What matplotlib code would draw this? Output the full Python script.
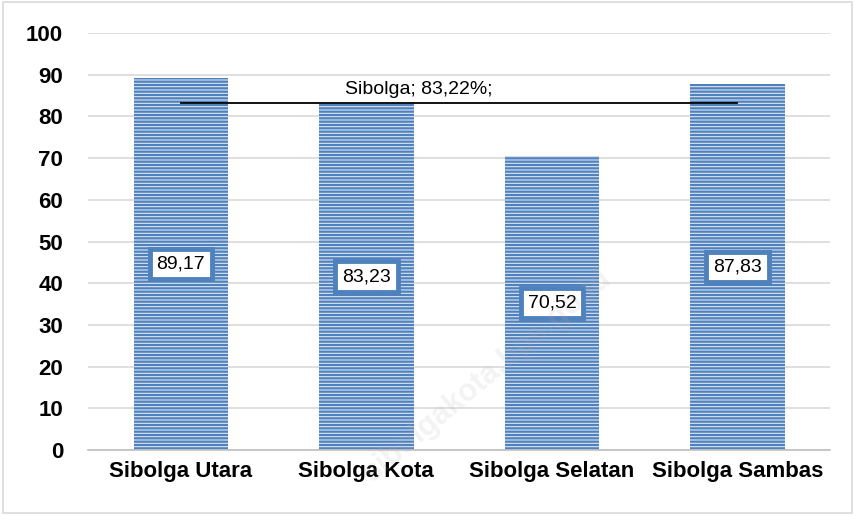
import matplotlib
matplotlib.use("Agg")
import matplotlib.pyplot as plt
from matplotlib.patches import Rectangle

categories = ["Sibolga Utara", "Sibolga Kota", "Sibolga Selatan", "Sibolga Sambas"]
values = [89.17, 83.23, 70.52, 87.83]
value_labels = ["89,17", "83,23", "70,52", "87,83"]
avg_value = 83.22
avg_label = "Sibolga; 83,22%;"
yticks = [0, 10, 20, 30, 40, 50, 60, 70, 80, 90, 100]

plt.rcParams['font.family'] = ['Liberation Sans', 'DejaVu Sans']
plt.rcParams['hatch.linewidth'] = 1.6

fig = plt.figure(figsize=(8.55, 5.15), dpi=100)
fig.patches.append(Rectangle((0.003, 0.003), 0.994, 0.994, transform=fig.transFigure,
                             fill=False, edgecolor='#d9d9d9', linewidth=1.2))
ax = fig.add_axes([0.103, 0.126, 0.868, 0.810])

x = list(range(len(categories)))
ax.bar(x, values, width=0.51, facecolor='#dbe5f3', edgecolor='#4f81bd',
       hatch='-----', linewidth=0, zorder=2)

ax.set_xlim(-0.5, len(categories) - 0.5)
ax.set_ylim(0, 100)
ax.set_yticks(yticks)
ax.set_yticklabels([str(t) for t in yticks], fontsize=16, fontweight='bold')
ax.set_xticks(x)
ax.set_xticklabels(categories, fontsize=16, fontweight='bold')
ax.tick_params(axis='both', length=0, pad=8)
ax.tick_params(axis='y', pad=18)
ax.grid(axis='y', color='#d9d9d9', linewidth=1.2, zorder=0)
for s in ['top', 'right', 'left']:
    ax.spines[s].set_visible(False)
ax.spines['bottom'].set_color('#bfbfbf')
ax.spines['bottom'].set_linewidth(1.2)

# average line
ax.plot([x[0], x[-1]], [avg_value, avg_value], color='black', linewidth=1.3, zorder=3)
ax.text((x[0] + x[-1]) / 2 - 0.22, avg_value + 1.2, avg_label, ha='center', va='bottom',
        fontsize=14, zorder=4)

for xi, v, lab in zip(x, values, value_labels):
    ax.text(xi, v / 2, lab, ha='center', va='center', fontsize=14, zorder=5,
            bbox=dict(boxstyle='square,pad=0.35', facecolor='white',
                      edgecolor='#4f81bd', linewidth=3.5))

fig.text(0.57, 0.27, "sibolgakota.bps.go.id", rotation=40, fontsize=22,
         fontweight='bold', color='#b0b0b0', alpha=0.15, ha='center', va='center')

fig.savefig("out.png", dpi=100)
